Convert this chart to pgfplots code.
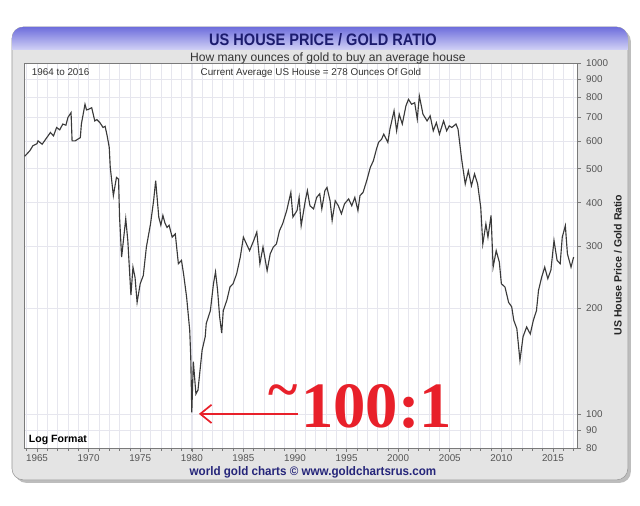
\documentclass[border=0pt]{standalone}
\usepackage{pgfplots}
\pgfplotsset{compat=1.18}
\usepackage{fontspec}
\setmainfont{Liberation Sans}
\newfontfamily\timesfont{Liberation Serif}
\usetikzlibrary{arrows.meta}

\definecolor{titlecol}{HTML}{1C1C6E}
\definecolor{captioncol}{HTML}{25257A}
\definecolor{bannertop}{HTML}{6E6EDC}
\definecolor{bannerbot}{HTML}{D2D2F6}
\definecolor{framefill}{HTML}{E4E4E4}
\definecolor{frameline}{HTML}{9A9A9A}
\definecolor{shadowcol}{HTML}{BDBDBD}
\definecolor{annored}{HTML}{E8202A}
\definecolor{linecol}{HTML}{3A3A3A}
\definecolor{gridcol}{HTML}{E6E6EE}
\definecolor{axisgray}{HTML}{7A7A7A}
\definecolor{ticklab}{HTML}{555555}

\begin{document}
\begin{tikzpicture}
\useasboundingbox (0,0) rectangle (16cm,-12.65cm);
\fill[white] (0,0) rectangle (16cm,-12.65cm);

% outer panel
\begin{scope}[x=0.025cm,y=-0.025cm]
  \fill[shadowcol, rounded corners=8] (15,30) rectangle (631,483);
  \filldraw[fill=framefill, draw=frameline, rounded corners=8] (12,27) rectangle (628,480);
  \shade[top color=bannertop, bottom color=bannerbot]
    (12,50) [rounded corners=8] -- (12,27) -- (628,27) [sharp corners] -- (628,50) -- cycle;
\end{scope}

\begin{axis}[
  at={(0.6cm,-11.2cm)}, anchor=south west,
  scale only axis, width=13.825cm, height=9.625cm,
  xmin=1963.74, xmax=2017.33,
  ymode=log, ymin=80, ymax=1000,
  axis background/.style={fill=white},
  axis line style={draw=axisgray, line width=0.5pt},
  xtick={1965,1970,...,2015},
  minor xtick={1964,...,2017},
  ytick={80,90,100,200,300,400,500,600,700,800,900,1000},
  yticklabels={80,90,100,200,300,400,500,600,700,800,900,1000},
  xtick pos=bottom, ytick pos=right, yticklabel pos=right,
  tick align=outside,
  major tick length=3pt, minor tick length=2pt,
  tick style={draw=axisgray, line width=0.4pt},
  xmajorgrids, xminorgrids, ymajorgrids,
  major grid style={draw=gridcol, line width=0.4pt},
  minor grid style={draw=gridcol, line width=0.4pt},
  ticklabel style={font=\fontsize{7}{8}\selectfont, text=ticklab},
  xticklabel style={yshift=1.5pt},
  /pgf/number format/assume math mode=true,
  /pgf/number format/1000 sep={},
]
\addplot[draw=linecol, line width=0.8pt, mark=none] coordinates {
(1963.8,542)(1964.3,562)(1964.6,581)(1965.0,589)(1965.1,600)(1965.5,587)
(1965.9,610)(1966.3,634)(1966.6,620)(1966.9,655)(1967.2,645)(1967.5,670)
(1967.8,665)(1968.0,700)(1968.3,722)(1968.4,600)(1968.7,600)(1969.2,613)
(1969.3,670)(1969.65,763)(1969.8,735)(1970.0,738)(1970.3,746)(1970.6,684)
(1970.8,690)(1971.1,676)(1971.4,655)(1971.6,660)(1971.8,620)(1972.0,575)
(1972.1,504)(1972.4,419)(1972.7,472)(1972.9,467)(1973.0,364)(1973.2,280)
(1973.6,360)(1973.8,312)(1974.1,218)(1974.3,262)(1974.5,245)(1974.7,208)
(1975.0,235)(1975.3,248)(1975.6,299)(1976.0,348)(1976.3,405)(1976.5,462)
(1976.8,364)(1977.0,345)(1977.2,368)(1977.4,350)(1977.6,340)(1977.8,345)
(1978.1,319)(1978.4,326)(1978.7,268)(1979.0,274)(1979.2,251)(1979.5,215)
(1979.8,173)(1979.9,145)(1980.0,101)(1980.15,141)(1980.4,114)(1980.6,117)
(1981.0,152)(1981.3,166)(1981.4,181)(1981.8,197)(1982.1,235)(1982.3,254)
(1982.5,225)(1982.7,189)(1982.9,170)(1983.05,197)(1983.4,211)(1983.7,230)
(1984.0,235)(1984.35,251)(1984.7,280)(1985.0,319)(1985.3,305)(1985.6,292)
(1986.0,312)(1986.3,330)(1986.6,268)(1986.9,299)(1987.3,256)(1987.6,286)
(1987.9,299)(1988.2,305)(1988.5,333)(1988.8,348)(1989.2,380)(1989.6,428)
(1989.8,364)(1990.2,380)(1990.4,414)(1990.6,344)(1991.0,405)(1991.2,433)
(1991.45,392)(1991.8,384)(1992.1,414)(1992.4,424)(1992.6,384)(1992.9,433)
(1993.1,442)(1993.4,405)(1993.6,356)(1993.9,405)(1994.2,392)(1994.5,372)
(1994.8,397)(1995.2,410)(1995.5,392)(1995.8,414)(1996.1,380)(1996.3,419)
(1996.6,428)(1996.95,462)(1997.3,504)(1997.6,527)(1997.9,569)(1998.1,594)
(1998.4,607)(1998.6,627)(1999.0,594)(1999.2,648)(1999.6,731)(1999.85,641)
(2000.1,715)(2000.4,670)(2000.75,755)(2001.0,788)(2001.3,763)(2001.6,771)
(2001.85,692)(2002.05,806)(2002.4,715)(2002.8,684)(2003.1,707)(2003.4,641)
(2003.7,676)(2004.0,627)(2004.2,655)(2004.4,684)(2004.7,641)(2004.95,662)
(2005.2,655)(2005.6,670)(2005.8,648)(2006.15,532)(2006.5,452)(2006.8,493)
(2007.1,447)(2007.4,483)(2007.7,452)(2008.0,388)(2008.2,305)(2008.5,348)
(2008.7,319)(2009.0,368)(2009.2,262)(2009.5,292)(2009.8,271)(2010.0,235)
(2010.35,230)(2010.7,208)(2011.0,202)(2011.2,185)(2011.5,175)(2011.8,142)
(2012.1,166)(2012.45,177)(2012.8,169)(2013.1,185)(2013.4,197)(2013.6,225)
(2013.9,245)(2014.2,262)(2014.5,243)(2014.8,257)(2015.1,312)(2015.4,274)
(2015.7,268)(2015.9,319)(2016.2,344)(2016.4,286)(2016.75,262)(2017.0,280)
};
\end{axis}

% texts and annotation
\begin{scope}[x=0.025cm,y=-0.025cm]
  \node[text=titlecol, font=\fontsize{11.8}{12}\selectfont\bfseries] at (323,39.5)
    {\scalebox{0.88}[1]{US HOUSE PRICE / GOLD RATIO}};
  \node[text=black!80, font=\fontsize{8.6}{9}\selectfont] at (328,58)
    {How many ounces of gold to buy an average house};
  \node[anchor=west, text=black!80, font=\fontsize{7}{8}\selectfont] at (27,72.5) {1964 to 2016};
  \node[text=black!80, font=\fontsize{7}{8}\selectfont] at (311,72.5)
    {Current Average US House = 278 Ounces Of Gold};
  \node[anchor=west, text=black, font=\fontsize{7.5}{8}\selectfont\bfseries] at (24,440) {Log Format};
  \node[rotate=90, text=black!85, font=\fontsize{7.5}{8}\selectfont\bfseries] at (618,265)
    {US House Price / Gold Ratio};
  \node[text=captioncol, font=\fontsize{8.8}{9}\selectfont\bfseries] at (313,472)
    {\scalebox{0.94}[1]{world gold charts \textcopyright\ www.goldchartsrus.com}};
  \draw[annored, line width=1.2pt, -{Straight Barb[length=8pt,width=13pt]}] (298,414) -- (199,414);
  \node[anchor=base west, inner sep=0, text=annored, font=\timesfont\bfseries\fontsize{46}{46}\selectfont]
    at (301,428) {100:1};
  \node[inner sep=0, text=annored, font=\timesfont\bfseries\fontsize{40}{40}\selectfont]
    at (283,397) {\textasciitilde};
\end{scope}
\end{tikzpicture}
\end{document}
